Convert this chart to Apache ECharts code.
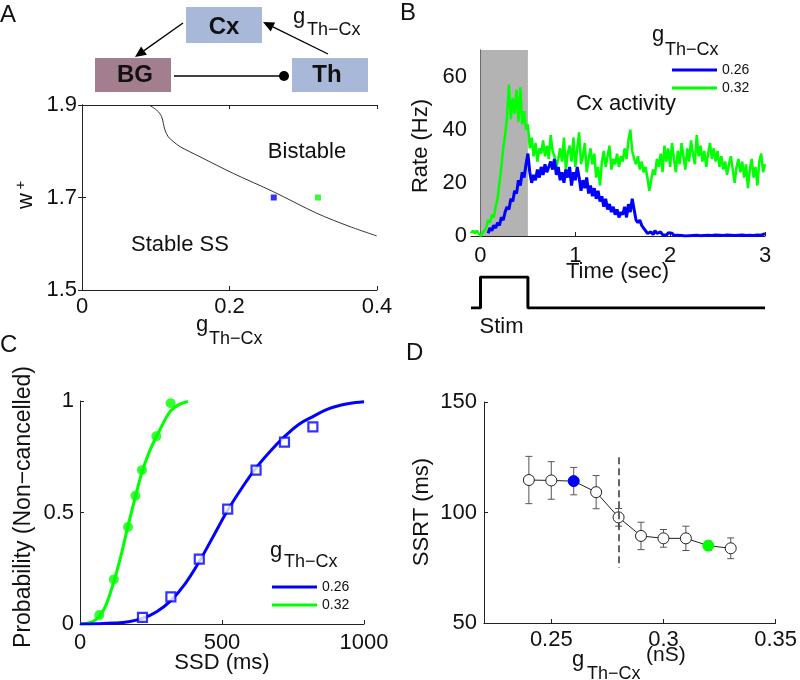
<!DOCTYPE html>
<html>
<head>
<meta charset="utf-8">
<script src="https://cdn.jsdelivr.net/npm/echarts@6.0.0/dist/echarts.min.js"></script>
<style>html,body{margin:0;padding:0;background:#fff}#chart{width:800px;height:680px}</style>
</head>
<body>
<div id="chart"></div>
<script>
// ---------- DATA ----------
// Panel A: bifurcation boundary and the two operating points
const boundaryG = [0.0908, 0.1013, 0.108, 0.1103, 0.1125, 0.117, 0.1238, 0.1329, 0.16, 0.2052, 0.2594, 0.3182, 0.3634, 0.3996];
const boundaryW = [1.9, 1.889, 1.875, 1.86, 1.846, 1.831, 1.821, 1.81, 1.788, 1.752, 1.7126, 1.666, 1.637, 1.617];
const pointG = [0.26, 0.32];
const pointW = [1.7, 1.7];
const xTicksA = [0, 0.2, 0.4];
const yTicksA = [1.5, 1.7, 1.9];

// Panel B: Cx activity (Hz), sampled every 0.02 s from -0.1 s
const tStart = -0.1, tStep = 0.02;
const rateHigh = [ // g = 0.32
  1,2,1,2,1,0,1,0.5,3,
  6,5,8,7,11,14,20,26,33,38,45,57,44,52,46,55,43,56,42,47,40,42,
  33,37,30,35,28,33,31,36,30,34,29,38,32,30,26,29,33,28,37,25,31,34,28,37,26,
  33,39,27,30,35,24,29,33,27,31,22,26,19,28,32,26,30,34,25,29,27,31,26,30,28,
  33,29,36,40,32,29,27,30,25,28,24,26,22,17,21,25,23,29,26,31,24,34,28,33,26,
  35,29,24,32,27,35,30,25,33,28,36,31,27,38,30,34,28,32,26,31,35,29,33,28,32,
  26,30,25,28,23,27,30,25,20,26,29,24,28,22,27,18,25,29,22,26,19,28,31,24,27
];
const rateLow = [ // g = 0.26
  null,null,null,null,null,null,null,null,null,
  1,3,2,4,3,5,4,7,6,9,11,10,14,13,17,16,21,19,24,22,27,31,
  24,20,23,21,25,22,26,23,27,24,26,28,25,29,23,26,21,24,20,25,22,26,19,24,21,
  26,22,17,21,18,22,16,19,15,18,14,17,13,15,11,14,10,12,9,11,8,10,7,9,8,
  11,7,12,9,14,10,6,5,6,4,3,2,1,0.5,1.5,0.5,2,1,0.5,1.5,0.5,1,0.3,1.2,0.5,
  1,0.2,0.8,0.3,1,0.2,0.5,0,0.4,0.1,0.6,0.2,0.8,0.3,0.5,0.1,0.7,0.2,0.9,0.3,0.6,0.2,0.8,0.4,1,
  0.3,0.7,0.2,0.9,0.4,1,0.3,0.6,0.2,0.8,0.3,1,0.4,0.7,0.2,0.9,0.3,0.6,0.2,0.8,0.4,1,0.3,0.7,0.9
];
const stimWindow = [0, 0.5];
const stimT = [-0.1, 0, 0, 0.5, 0.5, 3];
const stimV = [0, 0, 1, 1, 0, 0];
const xTicksB = [0, 1, 2, 3];
const yTicksB = [0, 20, 40, 60];

// Panel C: inhibition functions
const ssdHigh = [68, 119, 169, 195, 218, 269, 319];
const probHigh = [0.04, 0.2, 0.435, 0.575, 0.69, 0.842, 0.99];
const ssdLow = [220, 320, 420, 520, 620, 720, 820];
const probLow = [0.03, 0.122, 0.291, 0.515, 0.69, 0.816, 0.884];
const fitHighX = [0, 30, 50, 68, 90, 119, 145, 169, 195, 218, 245, 269, 295, 319, 350, 380];
const fitHighY = [0, 0.005, 0.015, 0.035, 0.08, 0.19, 0.31, 0.44, 0.57, 0.68, 0.775, 0.84, 0.905, 0.955, 0.985, 0.998];
const fitLowX = [0, 60, 120, 170, 220, 270, 320, 370, 420, 470, 520, 570, 620, 670, 720, 770, 820, 870, 920, 970, 1000];
const fitLowY = [0, 0.001, 0.004, 0.01, 0.025, 0.055, 0.105, 0.18, 0.28, 0.395, 0.51, 0.61, 0.7, 0.775, 0.84, 0.895, 0.93, 0.962, 0.982, 0.993, 0.997];

// Panel D: SSRT vs g
const gVals = [0.24, 0.25, 0.26, 0.27, 0.28, 0.29, 0.30, 0.31, 0.32, 0.33];
const ssrtMean = [114.7, 114.5, 114.2, 109.2, 97.8, 89.4, 88.3, 88.3, 85.0, 83.8];
const ssrtErr = [10.7, 8.5, 6.2, 7.5, 4.0, 6.2, 4.0, 5.5, 2.0, 4.7];
const gCrit = 0.28;
const gCritSpan = [75, 125];
const xTicksD = [0.25, 0.3, 0.35];

const legendNames = ['0.26', '0.32'];

// ---------- STYLE ----------
const FF = 'Liberation Sans, Arial, Helvetica, sans-serif';
const BLUE = '#0000ff', GREEN = '#00ff00', INK = '#111';
const colorOf = { '0.26': BLUE, '0.32': GREEN };
const AX = '#222';

const lbl = (margin, show = true) => ({ show, fontSize: 22, fontFamily: FF, color: INK, margin, formatter: (v) => String(+v.toFixed(4)) });
const tick = { show: true, inside: true, length: 4, lineStyle: { color: AX } };
const line = { show: true, lineStyle: { color: AX, width: 1 } };

function xAx(gridIndex, min, max, opts) {
  return Object.assign({ type: 'value', gridIndex, min, max, splitLine: { show: false }, axisLine: line, axisTick: tick }, opts);
}

const chart = echarts.init(document.getElementById('chart'), null, { renderer: 'canvas' });

const tx = (text, x, y, fs, o = {}) => ({
  type: 'text', x, y, rotation: o.rot || 0, z: 10,
  style: { text, fontSize: fs, fontFamily: FF, fill: INK, align: o.align || 'center', verticalAlign: 'middle', fontWeight: o.bold ? 'bold' : 'normal' }
});

const graphic = [
  // panel letters
  tx('A', 0, 15, 24, { align: 'left' }),
  tx('B', 400, 13, 24, { align: 'left' }),
  tx('C', 0, 345, 24, { align: 'left' }),
  tx('D', 406, 353, 24, { align: 'left' }),
  // diagram
  { type: 'rect', shape: { x: 186, y: 7, width: 76, height: 36 }, style: { fill: '#a8b8d8' } },
  { type: 'rect', shape: { x: 95, y: 58, width: 76, height: 34 }, style: { fill: '#a27e8f' } },
  { type: 'rect', shape: { x: 292, y: 58, width: 76, height: 34 }, style: { fill: '#a8b8d8' } },
  tx('Cx', 224, 27, 24, { bold: true }),
  tx('BG', 135, 75, 24, { bold: true }),
  tx('Th', 327, 75, 24, { bold: true }),
  { type: 'line', shape: { x1: 183, y1: 23, x2: 144, y2: 50.6 }, style: { stroke: '#000', lineWidth: 1.3 } },
  { type: 'polygon', shape: { points: [[135, 57], [146.9, 54.7], [141.1, 46.6]] }, style: { fill: '#000' } },
  { type: 'line', shape: { x1: 328, y1: 54, x2: 272.9, y2: 26.9 }, style: { stroke: '#000', lineWidth: 1.3 } },
  { type: 'polygon', shape: { points: [[263, 22], [275.1, 22.4], [270.7, 31.4]] }, style: { fill: '#000' } },
  { type: 'line', shape: { x1: 174, y1: 76, x2: 283, y2: 76 }, style: { stroke: '#000', lineWidth: 1.3 } },
  { type: 'circle', shape: { cx: 284, cy: 76, r: 5 }, style: { fill: '#000' } },
  tx('g', 293, 16.5, 22, { align: 'left' }),
  tx('Th\u2212Cx', 307, 29.7, 18, { align: 'left' }),
  // panel A texts
  tx('Bistable', 307, 151.5, 22),
  tx('Stable SS', 180, 245, 22),
  tx('w', 25.5, 201, 22, { rot: Math.PI / 2 }),
  tx('+', 21, 185, 15, { rot: Math.PI / 2 }),
  tx('g', 196, 325.3, 22, { align: 'left' }),
  tx('Th\u2212Cx', 209, 339, 18, { align: 'left' }),
  // panel B texts
  tx('Rate (Hz)', 420.5, 146, 22, { rot: Math.PI / 2 }),
  tx('Time (sec)', 617.5, 272, 22),
  tx('Cx activity', 626, 104, 22),
  tx('Stim', 501.5, 327.3, 22),
  tx('g', 652, 34.7, 22, { align: 'left' }),
  tx('Th\u2212Cx', 665, 49.7, 18, { align: 'left' }),
  // panel C texts
  tx('Probability (Non\u2212cancelled)', 24, 507, 23, { rot: Math.PI / 2 }),
  tx('SSD (ms)', 222, 663, 22),
  tx('g', 270, 551, 22, { align: 'left' }),
  tx('Th\u2212Cx', 284, 561.7, 18, { align: 'left' }),
  // panel D texts
  tx('SSRT (ms)', 422, 512, 22, { rot: Math.PI / 2 }),
  tx('g', 572, 660.3, 22, { align: 'left' }),
  tx('Th\u2212Cx', 587, 674, 18, { align: 'left' }),
  tx('(nS)', 646, 655.7, 21, { align: 'left' })
];

const tAxis = (i) => +(tStart + i * tStep).toFixed(2);

const option = {
  animation: false,
  backgroundColor: '#fff',
  textStyle: { fontFamily: FF },
  grid: [
    { left: 82, top: 105, width: 295, height: 185 },
    { left: 471, top: 50, width: 294, height: 186 },
    { left: 80, top: 401, width: 284, height: 223 },
    { left: 484, top: 402, width: 294, height: 221 },
    { left: 471, top: 277, width: 294, height: 31 }
  ],
  xAxis: [
    xAx(0, 0, 0.4, { axisLabel: Object.assign(lbl(6), { customValues: xTicksA }), axisTick: Object.assign({}, tick, { customValues: xTicksA }) }),
    xAx(0, 0, 0.4, { position: 'top', axisLabel: { show: false }, axisTick: Object.assign({}, tick, { customValues: xTicksA }) }),
    xAx(1, -0.1, 3, { axisLabel: Object.assign(lbl(9), { customValues: xTicksB }), axisTick: Object.assign({}, tick, { customValues: xTicksB }) }),
    xAx(2, 0, 1000, { interval: 500, axisLabel: lbl(8) }),
    xAx(3, 0.22, 0.35, { axisLabel: Object.assign(lbl(6), { customValues: xTicksD }), axisTick: Object.assign({}, tick, { customValues: xTicksD }) }),
    { type: 'value', gridIndex: 4, min: -0.1, max: 3, show: false }
  ],
  yAxis: [
    xAx(0, 1.5, 1.9, { axisLabel: Object.assign(lbl(5), { customValues: yTicksA }), axisTick: Object.assign({}, tick, { customValues: yTicksA }) }),
    xAx(0, 1.5, 1.9, { position: 'right', axisLabel: { show: false }, axisTick: Object.assign({}, tick, { customValues: yTicksA }) }),
    xAx(1, 0, 70, { axisLabel: Object.assign(lbl(4), { customValues: yTicksB }), axisTick: Object.assign({}, tick, { customValues: yTicksB }) }),
    xAx(2, 0, 1, { interval: 0.5, axisLabel: lbl(6) }),
    xAx(3, 50, 150, { interval: 50, axisLabel: lbl(7) }),
    { type: 'value', gridIndex: 4, min: 0, max: 1, show: false }
  ],
  legend: [
    { data: legendNames, left: 672, top: 61, orient: 'vertical', icon: 'rect', itemWidth: 45, itemHeight: 3, itemGap: 0, padding: 0, selectedMode: false,
      textStyle: { fontSize: 14, lineHeight: 18, fontFamily: FF, color: INK } },
    { data: legendNames, left: 272, top: 578, orient: 'vertical', icon: 'rect', itemWidth: 45, itemHeight: 3, itemGap: 0, padding: 0, selectedMode: false,
      textStyle: { fontSize: 14, lineHeight: 18, fontFamily: FF, color: INK } }
  ],
  graphic,
  series: [
    // ---- Panel A
    { name: 'boundary', type: 'line', xAxisIndex: 0, yAxisIndex: 0, smooth: 0.3, symbol: 'none',
      lineStyle: { color: '#333', width: 1 }, data: boundaryG.map((g, i) => [g, boundaryW[i]]) },
    { name: 'points', type: 'scatter', xAxisIndex: 0, yAxisIndex: 0, symbol: 'rect', symbolSize: 6,
      data: pointG.map((g, i) => ({ value: [g, pointW[i]], itemStyle: { color: colorOf[String(g)] } })) },
    // ---- Panel B
    { name: 'stim window', type: 'custom', xAxisIndex: 2, yAxisIndex: 2, z: 1, data: [stimWindow],
      renderItem: (p, api) => {
        const a = api.coord([api.value(0), 70]), b = api.coord([api.value(1), 0]);
        return { type: 'rect', shape: { x: a[0], y: a[1], width: b[0] - a[0], height: b[1] - a[1] }, style: { fill: '#b3b3b3' } };
      } },
    { name: '0.32', type: 'line', xAxisIndex: 2, yAxisIndex: 2, z: 2, symbol: 'none', color: GREEN,
      lineStyle: { color: GREEN, width: 2.5 }, data: rateHigh.map((v, i) => [tAxis(i), v]) },
    { name: '0.26', type: 'line', xAxisIndex: 2, yAxisIndex: 2, z: 3, symbol: 'none', color: BLUE,
      lineStyle: { color: BLUE, width: 3 }, data: rateLow.map((v, i) => [tAxis(i), v]) },
    { name: 'stim', type: 'line', xAxisIndex: 5, yAxisIndex: 5, symbol: 'none',
      lineStyle: { color: '#000', width: 3 }, data: stimT.map((t, i) => [t, stimV[i]]) },
    // ---- Panel C
    { name: '0.32', type: 'line', xAxisIndex: 3, yAxisIndex: 3, smooth: 0.4, symbol: 'none', color: GREEN,
      lineStyle: { color: GREEN, width: 3 }, data: fitHighX.map((x, i) => [x, fitHighY[i]]) },
    { name: '0.26', type: 'line', xAxisIndex: 3, yAxisIndex: 3, smooth: 0.4, symbol: 'none', color: BLUE,
      lineStyle: { color: BLUE, width: 3 }, data: fitLowX.map((x, i) => [x, fitLowY[i]]) },
    { name: 'sim 0.32', type: 'scatter', xAxisIndex: 3, yAxisIndex: 3, symbol: 'circle', symbolSize: 10, z: 4,
      itemStyle: { color: GREEN }, data: ssdHigh.map((x, i) => [x, probHigh[i]]) },
    { name: 'sim 0.26', type: 'scatter', xAxisIndex: 3, yAxisIndex: 3, symbol: 'rect', symbolSize: 9, z: 4,
      itemStyle: { color: '#fff', borderColor: BLUE, borderWidth: 2.2 }, data: ssdLow.map((x, i) => [x, probLow[i]]) },
    // ---- Panel D
    { name: 'ssrt err', type: 'custom', xAxisIndex: 4, yAxisIndex: 4, z: 2,
      data: gVals.map((g, i) => [g, ssrtMean[i], ssrtErr[i]]),
      renderItem: (p, api) => {
        const x = api.value(0), y = api.value(1), e = api.value(2);
        const t = api.coord([x, y + e]), b = api.coord([x, y - e]), c = 3.5;
        const st = { stroke: '#555', lineWidth: 1 };
        return { type: 'group', children: [
          { type: 'line', shape: { x1: t[0], y1: t[1], x2: b[0], y2: b[1] }, style: st },
          { type: 'line', shape: { x1: t[0] - c, y1: t[1], x2: t[0] + c, y2: t[1] }, style: st },
          { type: 'line', shape: { x1: b[0] - c, y1: b[1], x2: b[0] + c, y2: b[1] }, style: st }
        ] };
      } },
    { name: 'SSRT', type: 'line', xAxisIndex: 4, yAxisIndex: 4, z: 3, symbol: 'circle', symbolSize: 11, showAllSymbol: true,
      lineStyle: { color: '#222', width: 1 },
      itemStyle: { color: '#fff', borderColor: '#222', borderWidth: 1 },
      data: gVals.map((g, i) => {
        const c = colorOf[g.toFixed(2)];
        return c ? { value: [g, ssrtMean[i]], itemStyle: { color: c, borderColor: c } } : [g, ssrtMean[i]];
      }),
      markLine: { silent: true, symbol: 'none', label: { show: false },
        lineStyle: { color: '#333', width: 1.5, type: [7, 4] },
        data: [[{ coord: [gCrit, gCritSpan[1]] }, { coord: [gCrit, gCritSpan[0]] }]] } }
  ]
};
chart.setOption(option);
</script>
</body>
</html>
